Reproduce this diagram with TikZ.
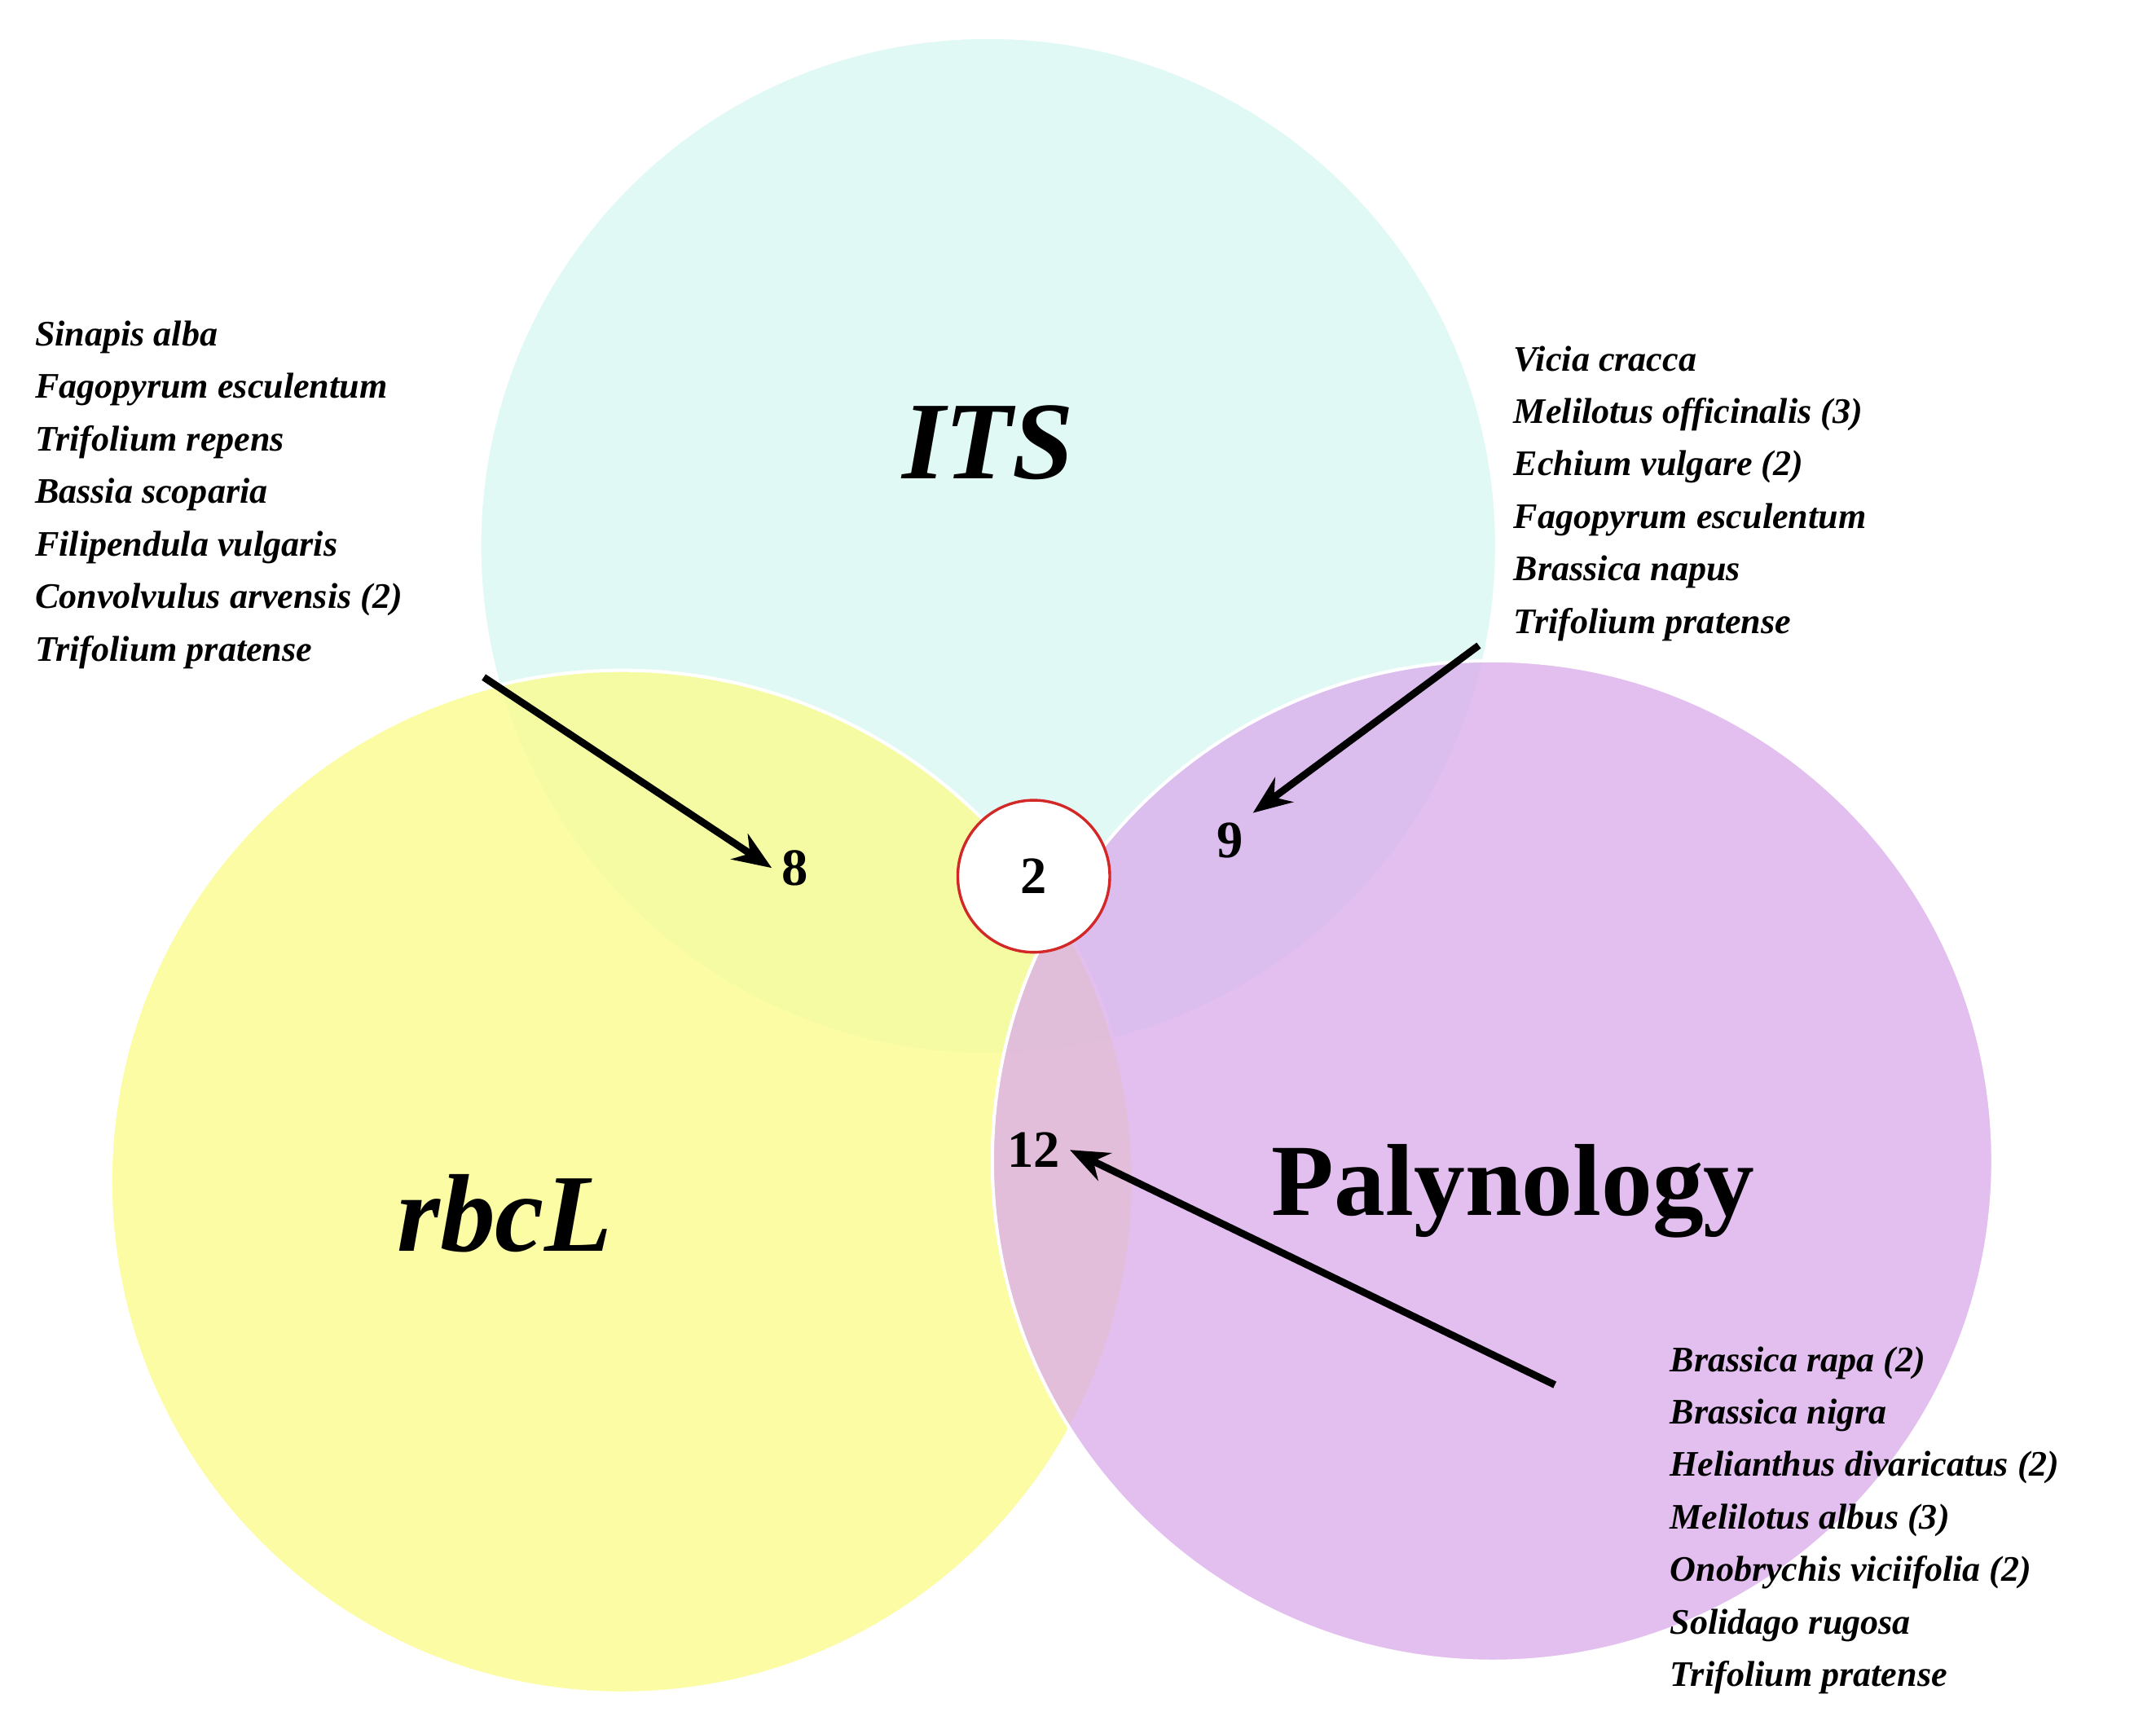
\documentclass[tikz,border=0pt]{standalone}
\usepackage{fontspec}
\setmainfont{Liberation Serif}
\usetikzlibrary{arrows.meta}
\definecolor{itsc}{HTML}{D8F8F2}
\definecolor{rbcc}{HTML}{FCFC88}
\definecolor{palc}{HTML}{DAAAEC}
\begin{document}
\begin{tikzpicture}[x=0.5pt,y=-0.5pt,
  sp/.style={anchor=west,font=\fontsize{13}{19}\selectfont\bfseries\itshape,align=left,inner sep=0},
  num/.style={font=\fontsize{19}{20}\selectfont\bfseries},
  arr/.style={line width=2.6pt,-{Stealth[length=14pt,width=11pt]}},
  venn/.style={draw=white,line width=1.2pt,fill opacity=0.75}]
\useasboundingbox (0,0) rectangle (1560,1248);
\fill[white] (0,0) rectangle (1560,1248);
\path[venn,fill=itsc] (715,395) circle[radius=368];
\path[venn,fill=rbcc] (450,855) circle[radius=370];
\path[venn,fill=palc] (1080,840) circle[radius=362];
\node[draw={rgb,255:red,210;green,40;blue,40},line width=1pt,fill=white,circle,minimum size=55pt,num] (c2) at (748,634) {2};
\node[font=\fontsize{40}{40}\selectfont\bfseries\itshape] (its) at (715,320) {ITS};
\node[font=\fontsize{40}{40}\selectfont\bfseries\itshape] (rbc) at (365,878) {rbcL};
\node[font=\fontsize{37}{37}\selectfont\bfseries] (pal) at (1095,862) {Palynology};
\node[num] (n8) at (575,628) {8};
\node[num] (n9) at (890,608) {9};
\node[num] (n12) at (748,832) {12};
\node[sp] (l1) at (25,358) {Sinapis alba\\Fagopyrum esculentum\\Trifolium repens\\Bassia scoparia\\Filipendula vulgaris\\Convolvulus arvensis (2)\\Trifolium pratense};
\node[sp] (l2) at (1095,357) {Vicia cracca\\Melilotus officinalis (3)\\Echium vulgare (2)\\Fagopyrum esculentum\\Brassica napus\\Trifolium pratense};
\node[sp] (l3) at (1208,1100) {Brassica rapa (2)\\Brassica nigra\\Helianthus divaricatus (2)\\Melilotus albus (3)\\Onobrychis viciifolia (2)\\Solidago rugosa\\Trifolium pratense};
\coordinate (a1) at (350,490);
\coordinate (a2) at (1070,467);
\coordinate (a3) at (1125,1002);
\draw[arr] (a1) -- (n8.west);
\draw[arr] (a2) -- (n9.north east);
\draw[arr] (a3) -- (n12.east);
\end{tikzpicture}
\end{document}
